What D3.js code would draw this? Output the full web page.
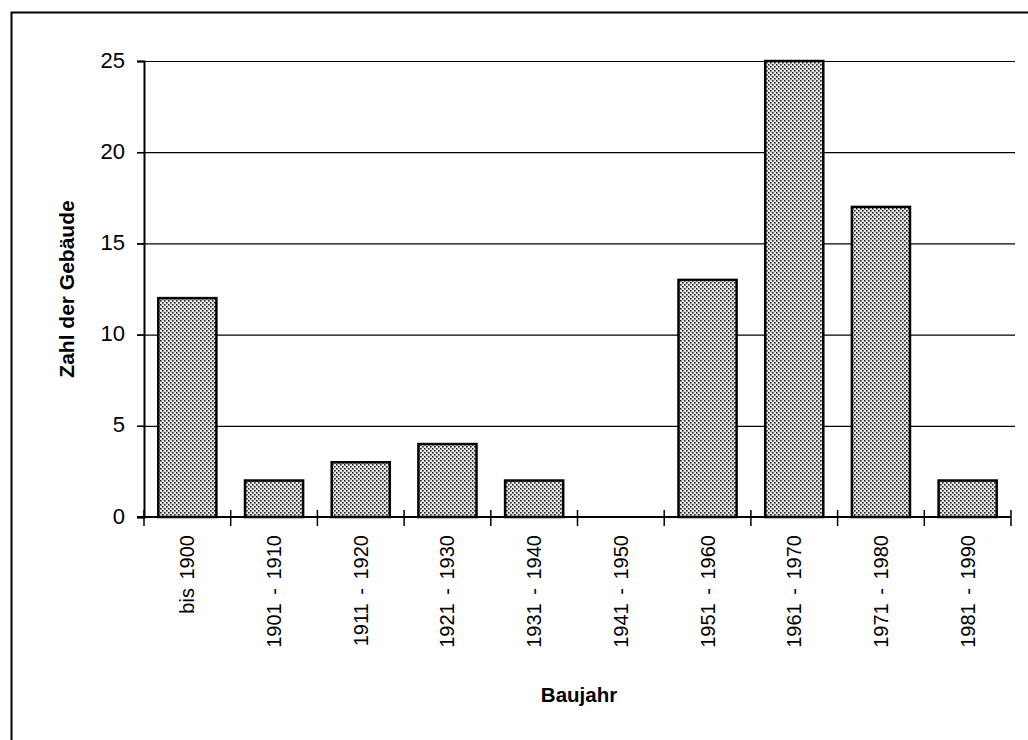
<!DOCTYPE html>
<html>
<head>
<meta charset="utf-8">
<script src="https://cdn.jsdelivr.net/npm/d3@7"></script>
<style>
html,body{margin:0;padding:0;background:#fff;}
svg{display:block;}
text{font-family:"Liberation Sans",Arial,sans-serif;fill:#000;}
</style>
</head>
<body>
<svg id="chart" width="1028" height="740"></svg>
<script>
const categories = ["bis 1900","1901 - 1910","1911 - 1920","1921 - 1930","1931 - 1940","1941 - 1950","1951 - 1960","1961 - 1970","1971 - 1980","1981 - 1990"];
const values = [12, 2, 3, 4, 2, 0, 13, 25, 17, 2];
const yTicks = [0, 5, 10, 15, 20, 25];
const xTitle = "Baujahr";
const yTitle = "Zahl der Gebäude";

(function(){
const svg = d3.select("#chart");
const pLeft = 144, pRight = 1011, pTop = 61, pBottom = 517;

// frame
svg.append("path")
  .attr("d", "M11.5,742 V12.5 H1030")
  .attr("fill", "none").attr("stroke", "#000").attr("stroke-width", 2);

const defs = svg.append("defs");
const pat = defs.append("pattern").attr("id", "dots")
  .attr("patternUnits", "userSpaceOnUse").attr("width", 4).attr("height", 4);
pat.append("rect").attr("width", 4).attr("height", 4).attr("fill", "#e8e8e8");
pat.append("rect").attr("x", 0).attr("y", 0).attr("width", 1.6).attr("height", 1.6).attr("fill", "#222");
pat.append("rect").attr("x", 2).attr("y", 2).attr("width", 1.6).attr("height", 1.6).attr("fill", "#222");

const x = d3.scaleBand().domain(categories).range([pLeft, pRight]).paddingInner(0.33).paddingOuter(0.165);
const xb = d3.scaleBand().domain(categories).range([pLeft, pRight]);
const y = d3.scaleLinear().domain([0, 25]).range([pBottom, pTop]);

// gridlines
svg.append("g").selectAll("line").data(yTicks.filter(d => d > 0)).join("line")
  .attr("x1", pLeft - 7).attr("x2", 1015)
  .attr("y1", d => y(d) + 0.5).attr("y2", d => y(d) + 0.5)
  .attr("stroke", "#000").attr("stroke-width", 1.2);

// y axis
const yAxis = svg.append("g").attr("transform", `translate(${pLeft},0)`)
  .call(d3.axisLeft(y).tickValues(yTicks).tickSize(7).tickPadding(12));
yAxis.select(".domain").attr("stroke-width", 2);
yAxis.selectAll(".tick line").attr("stroke-width", 1.5);
yAxis.selectAll("text").attr("font-size", 22).attr("dy", "0.28em")
  .style("font-family", '"Liberation Sans",Arial,sans-serif');

// bars
svg.append("g").selectAll("rect").data(values).join("rect")
  .attr("x", (d, i) => x(categories[i]))
  .attr("width", x.bandwidth())
  .attr("y", d => y(d))
  .attr("height", d => y(0) - y(d))
  .attr("fill", "url(#dots)")
  .attr("stroke", "#000").attr("stroke-width", 2.5)
  .style("display", d => d > 0 ? null : "none");

// x axis
const xg = svg.append("g").attr("transform", `translate(0,${pBottom})`);
xg.append("line").attr("x1", pLeft - 7).attr("x2", pRight).attr("y1", 0).attr("y2", 0)
  .attr("stroke", "#000").attr("stroke-width", 2);
const edges = categories.map(c => xb(c)).concat([pRight]);
xg.selectAll("line.tk").data(edges).join("line").attr("class", "tk")
  .attr("x1", d => d).attr("x2", d => d).attr("y1", -7).attr("y2", 9)
  .attr("stroke", "#000").attr("stroke-width", 1.5);
xg.selectAll("text.lab").data(categories).join("text").attr("class", "lab")
  .attr("transform", d => `translate(${xb(d) + xb.bandwidth() / 2 + 7},18) rotate(-90)`)
  .attr("text-anchor", "end")
  .attr("font-size", 20)
  .style("word-spacing", "3px")
  .text(d => d);

// titles
svg.append("text").attr("x", 579).attr("y", 702).attr("text-anchor", "middle")
  .attr("font-size", 20.5).attr("font-weight", "bold").text(xTitle);
svg.append("text").attr("transform", `translate(74,${(pTop + pBottom) / 2}) rotate(-90)`)
  .attr("text-anchor", "middle").attr("font-size", 21).attr("font-weight", "bold").text(yTitle);
})();
</script>
</body>
</html>
